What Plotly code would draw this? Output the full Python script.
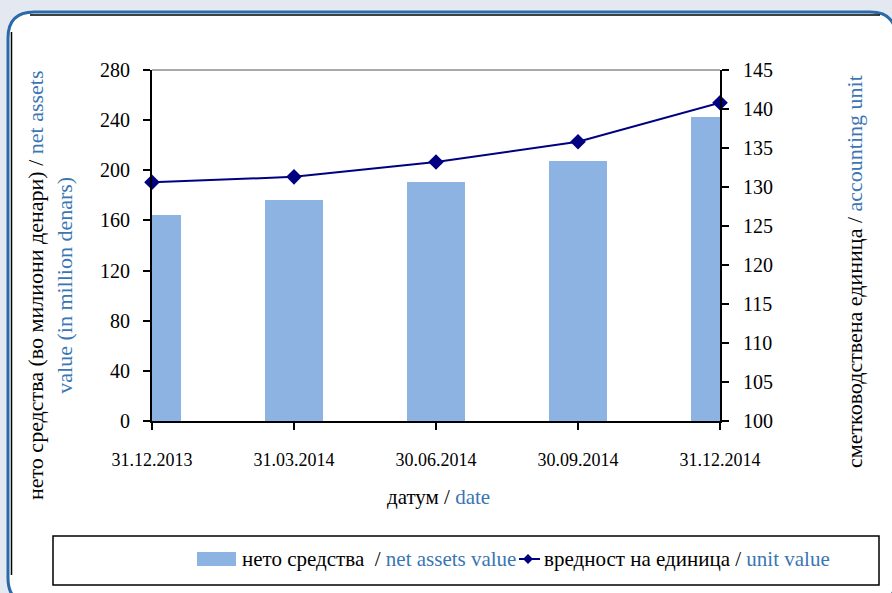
import plotly.graph_objects as go

dates = ["31.12.2013", "31.03.2014", "30.06.2014", "30.09.2014", "31.12.2014"]
net_assets = [164.3, 176.3, 190.7, 207.4, 242.5]
unit_value = [130.6, 131.3, 133.2, 135.8, 140.8]
left_ticks = [0, 40, 80, 120, 160, 200, 240, 280]
right_ticks = [100, 105, 110, 115, 120, 125, 130, 135, 140, 145]

W, H = 892, 593
BLUE_TXT = "#3a76b4"
BAR = "#8db3e2"
NAVY = "#000080"
SERIF = "Liberation Serif"

def px(x):
    return x / W

def py(y):
    return 1 - y / H

X0, X1, Y0, Y1 = 152, 720, 70, 421

fig = go.Figure()
fig.add_trace(go.Bar(x=dates, y=net_assets, width=0.41, marker_color=BAR,
                     marker_line_width=0, yaxis="y", xaxis="x"))
fig.add_trace(go.Scatter(x=dates, y=unit_value, mode="lines+markers", yaxis="y2", xaxis="x",
                         line=dict(color=NAVY, width=2),
                         marker=dict(symbol="diamond", size=12, color=NAVY),
                         cliponaxis=False))

shapes = []
r = 26
x0, y0, x1, y1 = px(8), py(12), px(896), py(604)
rx, ry = r / W, r / H
path = (f"M {x0},{y0 - ry} Q {x0},{y0} {x0 + rx},{y0} L {x1 - rx},{y0} Q {x1},{y0} {x1},{y0 - ry} "
        f"L {x1},{y1 + ry} Q {x1},{y1} {x1 - rx},{y1} L {x0 + rx},{y1} Q {x0},{y1} {x0},{y1 + ry} Z")
shapes.append(dict(type="path", xref="paper", yref="paper", path=path,
                   fillcolor="white", line=dict(color="#2b6aa8", width=3), layer="below"))
shapes.append(dict(type="line", xref="paper", yref="paper", x0=px(30), x1=px(880), y0=py(15), y1=py(15),
                   line=dict(color="black", width=1.5), layer="below"))
shapes.append(dict(type="line", xref="paper", yref="paper", x0=px(11.5), x1=px(11.5), y0=py(32), y1=py(575),
                   line=dict(color="black", width=1.5), layer="below"))
shapes.append(dict(type="line", xref="paper", yref="paper", x0=px(X0), x1=px(X1), y0=py(Y0), y1=py(Y0),
                   line=dict(color="#8c8c8c", width=1.5)))
shapes.append(dict(type="rect", xref="paper", yref="paper", x0=px(53), x1=px(879), y0=py(536), y1=py(585),
                   fillcolor="white", line=dict(color="black", width=1.5)))
shapes.append(dict(type="rect", xref="paper", yref="paper", x0=px(197), x1=px(236), y0=py(552), y1=py(566),
                   fillcolor=BAR, line=dict(width=0)))
shapes.append(dict(type="line", xref="paper", yref="paper", x0=px(519), x1=px(540), y0=py(559), y1=py(559),
                   line=dict(color=NAVY, width=2)))
cx, cy, d = 528, 559, 5
shapes.append(dict(type="path", xref="paper", yref="paper",
                   path=f"M {px(cx - d)},{py(cy)} L {px(cx)},{py(cy - d)} L {px(cx + d)},{py(cy)} L {px(cx)},{py(cy + d)} Z",
                   fillcolor=NAVY, line=dict(width=0)))

annotations = [
    dict(text=f"нето средства (во милиони денари) / <span style='color:{BLUE_TXT}'>net assets</span><br>"
              f"<span style='color:{BLUE_TXT}'>value (in million denars)</span>",
         xref="paper", yref="paper", x=px(50), y=py(285), textangle=-90, showarrow=False,
         font=dict(family=SERIF, size=22, color="black"), xanchor="center", yanchor="middle"),
    dict(text=f"сметководствена единица / <span style='color:{BLUE_TXT}'>accounting unit</span>",
         xref="paper", yref="paper", x=px(855), y=py(272), textangle=-90, showarrow=False,
         font=dict(family=SERIF, size=22, color="black"), xanchor="center", yanchor="middle"),
    dict(text=f"датум / <span style='color:{BLUE_TXT}'>date</span>",
         xref="paper", yref="paper", x=px(438), y=py(497), showarrow=False,
         font=dict(family=SERIF, size=21, color="black"), xanchor="center", yanchor="middle"),
    dict(text=f"нето средства  / <span style='color:{BLUE_TXT}'>net assets value</span>",
         xref="paper", yref="paper", x=px(240), y=py(559), showarrow=False,
         font=dict(family=SERIF, size=21, color="black"), xanchor="left", yanchor="middle"),
    dict(text=f"вредност на единица / <span style='color:{BLUE_TXT}'>unit value</span>",
         xref="paper", yref="paper", x=px(542), y=py(559), showarrow=False,
         font=dict(family=SERIF, size=21, color="black"), xanchor="left", yanchor="middle"),
]

dom_x = [px(X0), px(X1)]
dom_y = [py(Y1), py(Y0)]
xf = dict(family=SERIF, size=18, color="black")
yf = dict(family=SERIF, size=20, color="black")

fig.update_layout(
    width=W, height=H, margin=dict(l=0, r=0, t=0, b=0),
    paper_bgcolor="#e4e8f1", plot_bgcolor="rgba(0,0,0,0)",
    showlegend=False, bargap=0,
    shapes=shapes, annotations=annotations,
    xaxis=dict(domain=dom_x, type="category", range=[0, 4], showline=True, linecolor="black", linewidth=2,
               ticks="outside", ticklen=7, tickwidth=1.5, tickcolor="black", showgrid=False, zeroline=False,
               tickfont=xf, automargin=False, anchor="y", ticklabelstandoff=14),
    xaxis2=dict(domain=dom_x, range=[0, 4], overlaying="x", anchor="y", side="bottom",
                tickvals=[0, 1, 2, 3, 4], ticks="inside", ticklen=8, tickwidth=1.5, tickcolor="black",
                showticklabels=False, showline=False, showgrid=False, zeroline=False),
    yaxis=dict(domain=dom_y, range=[0, 280], tickvals=left_ticks, showline=True, linecolor="black",
               linewidth=2, ticks="outside", ticklen=7, tickwidth=1.5, tickcolor="black", showgrid=False,
               zeroline=False, tickfont=yf, automargin=False, anchor="x", ticklabelstandoff=9),
    yaxis3=dict(domain=dom_y, range=[0, 280], tickvals=left_ticks, overlaying="y", anchor="x", side="left",
                ticks="inside", ticklen=6, tickwidth=1.5, tickcolor="black", showticklabels=False,
                showline=False, showgrid=False, zeroline=False),
    yaxis2=dict(domain=dom_y, range=[100, 145], tickvals=right_ticks, overlaying="y", side="right",
                anchor="x", showline=True, linecolor="black", linewidth=2, ticks="outside", ticklen=7,
                tickwidth=1.5, tickcolor="black", showgrid=False, zeroline=False,
                tickfont=yf, automargin=False, ticklabelstandoff=10),
    yaxis4=dict(domain=dom_y, range=[100, 145], tickvals=right_ticks, overlaying="y", side="right",
                anchor="x", ticks="inside", ticklen=6, tickwidth=1.5, tickcolor="black",
                showticklabels=False, showline=False, showgrid=False, zeroline=False),
)

fig.write_html("out.html", config={"displayModeBar": False},
               post_script="document.body.style.margin='0px';")
